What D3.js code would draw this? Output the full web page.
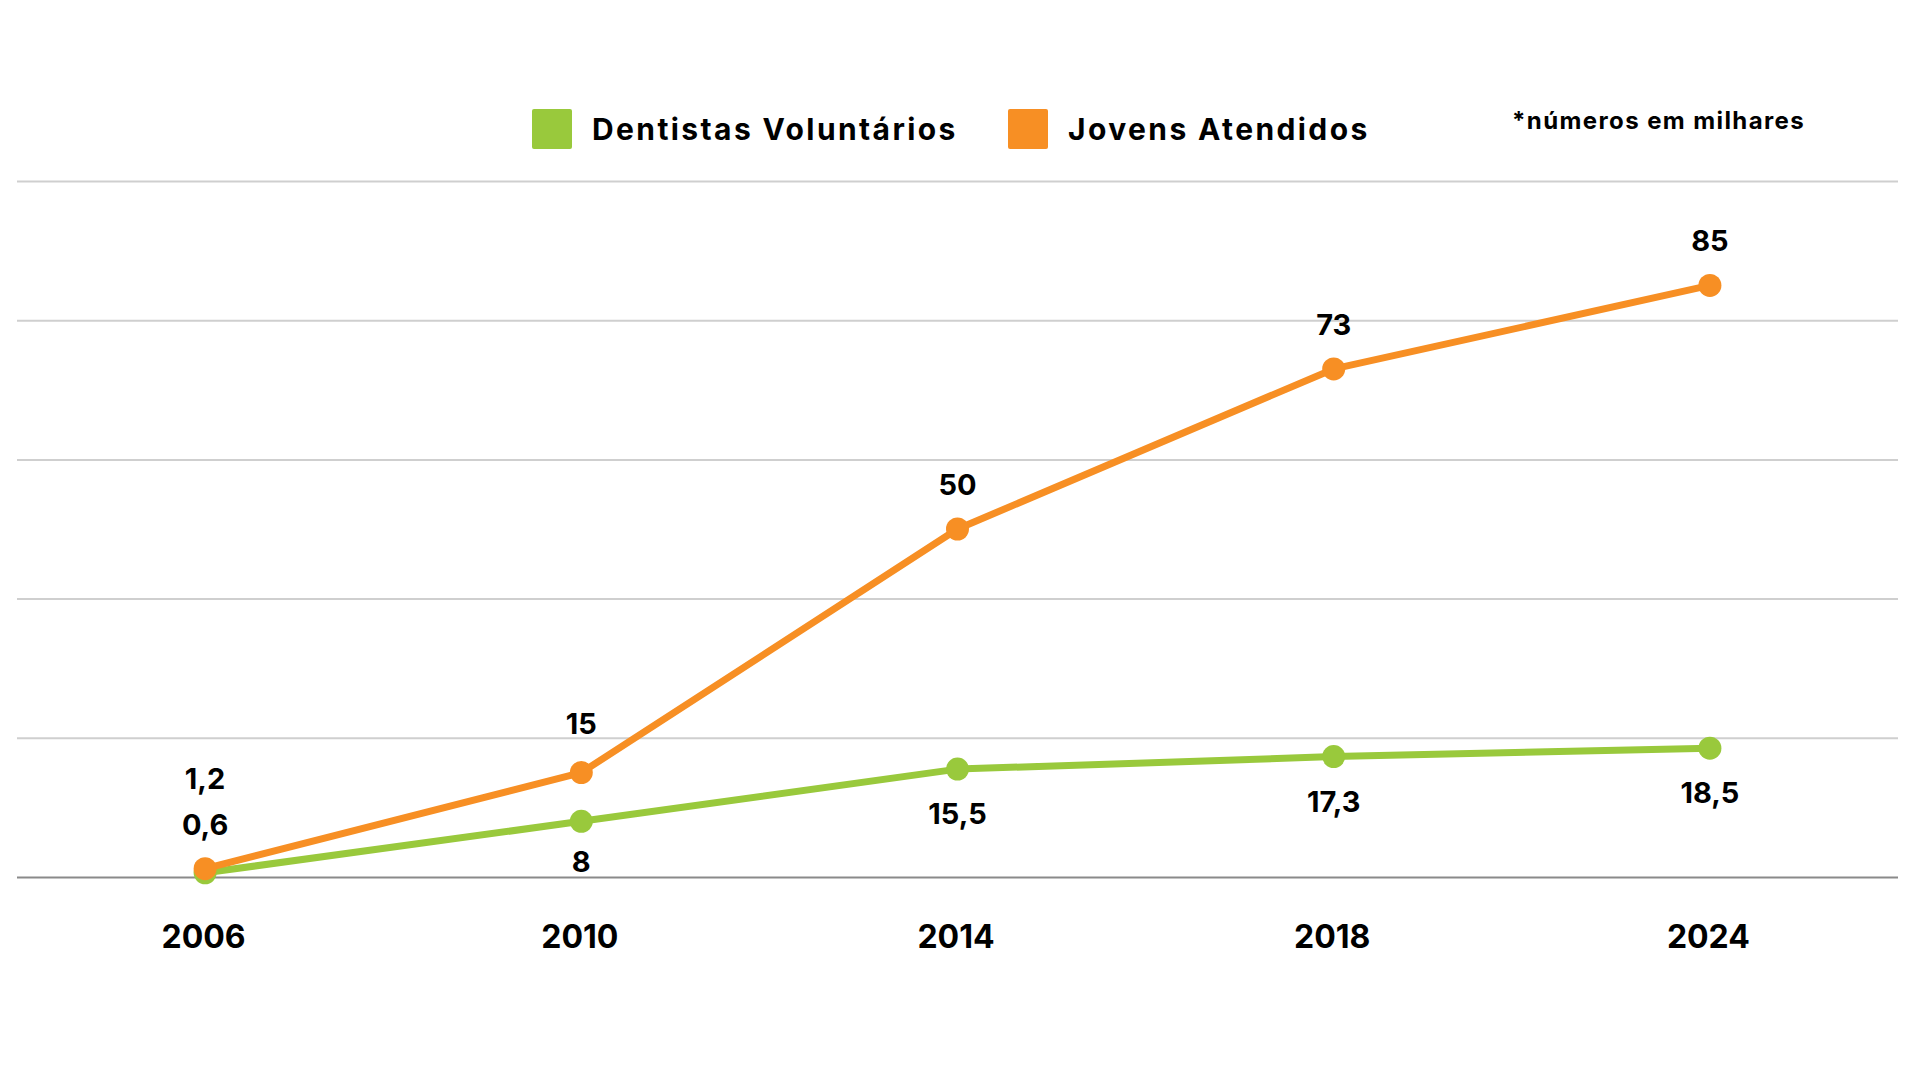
<!DOCTYPE html>
<html>
<head>
<meta charset="utf-8">
<script src="https://cdn.jsdelivr.net/npm/d3@7"></script>
<style>
  html, body { margin: 0; padding: 0; background: #ffffff; }
  svg { display: block; }
  text { font-family: Inter, "Noto Sans", sans-serif; font-weight: 700; fill: #000; }
</style>
</head>
<body>
<svg id="chart" width="1920" height="1080"></svg>
<script>
const years = ["2006", "2010", "2014", "2018", "2024"];
const dentistas = [0.6, 8, 15.5, 17.3, 18.5];
const jovens = [1.2, 15, 50, 73, 85];
const dentistasLabels = ["0,6", "8", "15,5", "17,3", "18,5"];
const jovensLabels = ["1,2", "15", "50", "73", "85"];
const seriesNames = ["Dentistas Voluntários", "Jovens Atendidos"];
const yTicks = [0, 20, 40, 60, 80, 100];
const note = "*números em milhares";

const green = "#99c93c";
const orange = "#f78f24";

const svg = d3.select("#chart");
const plotLeft = 17, plotRight = 1898, plotTop = 181, plotBottom = 877;

const x = d3.scalePoint().domain(years).range([plotLeft, plotRight]).padding(0.5);
const y = d3.scaleLinear().domain([0, 100]).range([plotBottom, plotTop]);

// gridlines
const grid = svg.append("g").attr("transform", `translate(${plotLeft},0)`)
  .call(d3.axisLeft(y).tickValues(yTicks).tickSize(-(plotRight - plotLeft)).tickFormat(""));
grid.select(".domain").remove();
grid.selectAll(".tick line")
  .attr("stroke", d => d === 0 ? "#8a8a8a" : "#cfcfcf")
  .attr("stroke-width", 2);

// x axis labels
const xa = svg.append("g").attr("transform", `translate(0,${plotBottom})`)
  .call(d3.axisBottom(x).tickSize(0).tickPadding(0));
xa.select(".domain").remove();
xa.selectAll(".tick text")
  .attr("y", 71)
  .attr("dx", -2)
  .attr("dy", 0)
  .style("font-size", "32px")
  .style("font-family", "Inter, sans-serif")
  .style("font-weight", 700)
  .attr("fill", "#000");

const line = d3.line().x((d, i) => x(years[i])).y(d => y(d));

function drawSeries(vals, color) {
  svg.append("path").datum(vals)
    .attr("d", line)
    .attr("fill", "none")
    .attr("stroke", color)
    .attr("stroke-width", 7)
    .attr("stroke-linejoin", "round");
  svg.append("g").selectAll("circle").data(vals).join("circle")
    .attr("cx", (d, i) => x(years[i]))
    .attr("cy", d => y(d))
    .attr("r", 11.5)
    .attr("fill", color);
}
drawSeries(dentistas, green);
drawSeries(jovens, orange);

// value labels
svg.append("g").selectAll("text").data(dentistas).join("text")
  .attr("x", (d, i) => x(years[i]))
  .attr("y", (d, i) => i === 0 ? y(d) - 38 : y(d) + (i === 1 ? 51 : 55))
  .attr("text-anchor", "middle")
  .style("font-size", "29px")
  .text((d, i) => dentistasLabels[i]);

svg.append("g").selectAll("text").data(jovens).join("text")
  .attr("x", (d, i) => x(years[i]))
  .attr("y", (d, i) => i === 0 ? y(d) - 80 : y(d) - (i === 1 ? 39 : 34))
  .attr("text-anchor", "middle")
  .style("font-size", "29px")
  .text((d, i) => jovensLabels[i]);

// legend
const legend = [
  { name: seriesNames[0], color: green, x: 532, tx: 592 },
  { name: seriesNames[1], color: orange, x: 1008, tx: 1068 }
];
const lg = svg.append("g");
lg.selectAll("rect").data(legend).join("rect")
  .attr("x", d => d.x).attr("y", 109)
  .attr("width", 40).attr("height", 40)
  .attr("rx", 2)
  .attr("fill", d => d.color);
lg.selectAll("text").data(legend).join("text")
  .attr("x", d => d.tx).attr("y", 140)
  .style("font-size", "30px")
  .style("letter-spacing", "2.4px")
  .text(d => d.name);

svg.append("text")
  .attr("x", 1512).attr("y", 129)
  .style("font-size", "24px")
  .style("font-weight", 700)
  .style("letter-spacing", "1.4px")
  .text(note);
</script>
</body>
</html>
